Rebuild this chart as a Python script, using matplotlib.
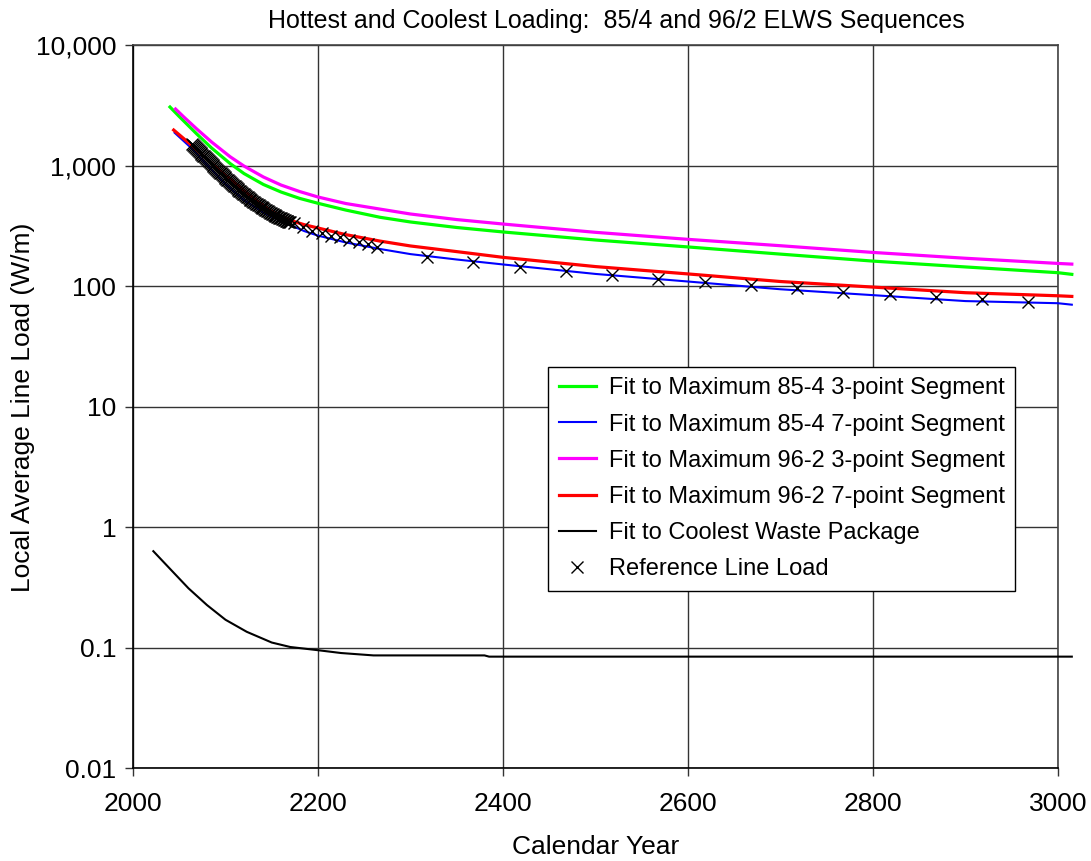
import numpy as np
import matplotlib
matplotlib.use("Agg")
import matplotlib.pyplot as plt
from matplotlib.ticker import FixedLocator, NullLocator


# =========================================================
# Data
# =========================================================
GREEN_YEARS = [2040, 2050, 2069, 2085, 2105, 2120, 2141, 2160, 2180, 2200, 2230,
               2267, 2300, 2350, 2400, 2500, 2600, 2700, 2800, 2900, 3000, 3015]
GREEN_LOAD = [3059, 2551, 1826, 1397, 1039, 858, 696, 603, 534, 486, 427,
              372, 340, 306, 281, 241, 211, 184, 161, 144, 129, 125]

BLUE_YEARS = [2045, 2063, 2080, 2100, 2120, 2140, 2155, 2170, 2185, 2200, 2230,
              2267, 2300, 2350, 2400, 2500, 2600, 2700, 2800, 2900, 3000, 3015]
BLUE_LOAD = [1871, 1397, 1010, 702, 517, 411, 360, 321, 286, 262, 230,
             203, 184, 166, 151, 126, 109, 94, 84, 75, 72, 70]

MAGENTA_YEARS = [2046, 2055, 2069, 2085, 2105, 2120, 2141, 2160, 2180, 2200, 2230,
                 2267, 2300, 2350, 2400, 2500, 2600, 2700, 2800, 2900, 3000, 3015]
MAGENTA_LOAD = [2944, 2526, 2009, 1567, 1183, 990, 803, 689, 609, 548, 484,
                435, 396, 356, 327, 279, 244, 216, 190, 170, 154, 152]

RED_YEARS = [2044, 2063, 2080, 2100, 2120, 2140, 2150, 2160, 2170, 2185, 2200, 2230,
             2267, 2300, 2350, 2400, 2500, 2600, 2700, 2800, 2900, 3000, 3015]
RED_LOAD = [1970, 1480, 1130, 830, 620, 470, 415, 377, 351, 323, 303, 267,
            236, 215, 193, 173, 145, 126, 109, 98, 88, 83, 82]

COOL_YEARS = [2022, 2040, 2060, 2080, 2100, 2123, 2150, 2170, 2200, 2225,
              2260, 2380, 2385, 3015]
COOL_LOAD = [0.63, 0.45, 0.31, 0.225, 0.17, 0.135, 0.11, 0.101, 0.095, 0.090,
             0.086, 0.086, 0.084, 0.084]

# yearly points 2064-2170, then every ten years, then every fifty years
REF_YEARS = list(range(2064, 2171)) + list(range(2174, 2265, 10)) + list(range(2318, 2969, 50))
REF_LOAD = [
    1500, 1475, 1450, 1425, 1400, 1375, 1350, 1325, 1300, 1275,
    1250, 1230, 1210, 1190, 1170, 1150, 1130, 1110, 1090, 1070,
    1050, 1030, 1010, 992, 975, 957, 940, 922, 905, 890,
    875, 860, 845, 830, 815, 802, 790, 777, 765, 752,
    740, 727, 715, 702, 690, 680, 670, 660, 650, 640,
    630, 620, 610, 601, 592, 583, 575, 567, 560, 552,
    545, 537, 530, 522, 515, 508, 502, 496, 490, 484,
    478, 472, 466, 460, 455, 450, 445, 440, 435, 430,
    425, 420, 416, 411, 407, 403, 399, 395, 391, 387,
    384, 380, 377, 373, 370, 367, 364, 361, 358, 355,
    352, 349, 347, 344, 342, 339, 337,
    331, 310, 286, 274, 261, 253, 241, 233, 223, 212,
    175, 159, 145, 134, 123, 114, 109, 102, 97, 90, 86, 81, 78, 74,
]

Y_TICKS = [0.01, 0.1, 1, 10, 100, 1000, 10000]
Y_TICK_LABELS = ["0.01", "0.1", "1", "10", "100", "1,000", "10,000"]
X_TICKS = [2000, 2200, 2400, 2600, 2800, 3000]

LABELS = [
    "Fit to Maximum 85-4 3-point Segment",
    "Fit to Maximum 85-4 7-point Segment",
    "Fit to Maximum 96-2 3-point Segment",
    "Fit to Maximum 96-2 7-point Segment",
    "Fit to Coolest Waste Package",
    "Reference Line Load",
]

plt.rcParams["font.family"] = ["Liberation Sans", "DejaVu Sans"]


def main():
    fig = plt.figure(figsize=(10.91, 8.61), dpi=100)
    ax = fig.add_axes([0.1219, 0.1080, 0.8478, 0.8397])

    # lines run a little past the 3000 edge, like the original
    ax.plot(GREEN_YEARS, GREEN_LOAD, color="#00ff00", lw=2.3, label=LABELS[0], clip_on=False, zorder=3)
    ax.plot(BLUE_YEARS, BLUE_LOAD, color="#0000ff", lw=1.5, label=LABELS[1], clip_on=False, zorder=3)
    ax.plot(MAGENTA_YEARS, MAGENTA_LOAD, color="#ff00ff", lw=2.3, label=LABELS[2], clip_on=False, zorder=3)
    ax.plot(RED_YEARS, RED_LOAD, color="#ff0000", lw=2.3, label=LABELS[3], clip_on=False, zorder=3)
    ax.plot(COOL_YEARS, COOL_LOAD, color="black", lw=1.5, label=LABELS[4], clip_on=False, zorder=3)
    ax.plot(REF_YEARS, REF_LOAD, ls="none", marker="x", color="black", ms=8.5, mew=1.0,
            label=LABELS[5], zorder=4)

    ax.set_yscale("log")
    ax.set_xlim(2000, 3000)
    ax.set_ylim(0.01, 10000)
    ax.yaxis.set_major_locator(FixedLocator(Y_TICKS))
    ax.yaxis.set_minor_locator(NullLocator())
    ax.set_yticklabels(Y_TICK_LABELS)
    ax.set_xticks(X_TICKS)
    ax.xaxis.set_minor_locator(NullLocator())

    ax.tick_params(axis="both", direction="out", length=6, width=1.0, color="#333333",
                   labelsize=19, pad=6)
    ax.tick_params(axis="x", pad=11)
    ax.grid(True, color="#333333", lw=1.0)
    for side in ["top", "right"]:
        ax.spines[side].set_color("#444444")
        ax.spines[side].set_linewidth(1.2)
    for side in ["left", "bottom"]:
        ax.spines[side].set_color("black")
        ax.spines[side].set_linewidth(1.2)

    ax.set_xlabel("Calendar Year", fontsize=19, labelpad=14)
    fig.text(0.021, 0.527, "Local Average Line Load (W/m)", rotation=90,
             ha="center", va="center", fontsize=19)
    fig.text(0.5646, 0.976, "Hottest and Coolest Loading:  85/4 and 96/2 ELWS Sequences",
             ha="center", va="center", fontsize=18)

    leg = ax.legend(loc="upper left", bbox_to_anchor=(0.449, 0.555), fontsize=17,
                    frameon=True, fancybox=False, edgecolor="black", framealpha=1,
                    borderaxespad=0, handlelength=1.55, labelspacing=0.6,
                    borderpad=0.45, handletextpad=0.55)
    leg.get_frame().set_linewidth(1.0)

    fig.savefig("out.png", dpi=100)
    plt.close(fig)


if __name__ == "__main__":
    main()
